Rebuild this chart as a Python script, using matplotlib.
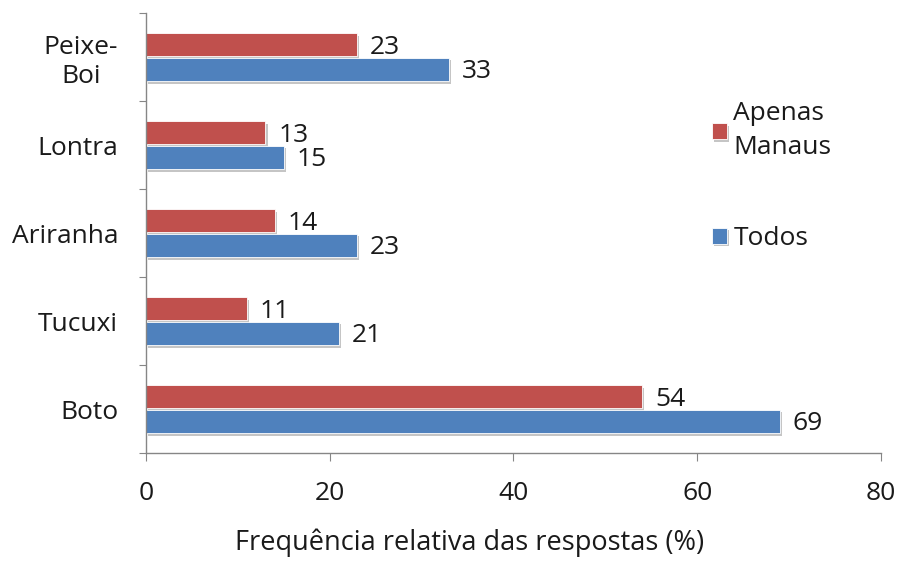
import numpy as np
import matplotlib.pyplot as plt
import matplotlib.patheffects as pe

categories = ["Boto", "Tucuxi", "Ariranha", "Lontra", "Peixe-\nBoi"]
manaus = [54, 11, 14, 13, 23]
todos = [69, 21, 23, 15, 33]
series_names = ["Apenas\nManaus", "Todos"]

red = "#C0504D"
blue = "#4F81BD"
fs = 19

plt.rcParams['font.family'] = ['Open Sans', 'DejaVu Sans']

fig = plt.figure(figsize=(9, 5.61), dpi=100)
ax = fig.add_axes([0.1622, 0.1925, 0.8167, 0.7843])

y = np.arange(len(categories))
h = 0.265
shadow = [pe.SimplePatchShadow(offset=(1.5, -2), shadow_rgbFace="#808080", alpha=0.45), pe.Normal()]

b1 = ax.barh(y + 0.14, manaus, height=h, color=red, label=series_names[0],
             edgecolor="white", linewidth=0.6, path_effects=shadow)
b2 = ax.barh(y - 0.14, todos, height=h, color=blue, label=series_names[1],
             edgecolor="white", linewidth=0.6, path_effects=shadow)

for bars, vals in ((b1, manaus), (b2, todos)):
    for bar, v in zip(bars, vals):
        ax.text(v + 1.4, bar.get_y() + bar.get_height() / 2 - 0.03, str(v),
                va="center", ha="left", fontsize=fs, color="#1a1a1a")

ax.set_xlim(0, 80)
ax.set_ylim(-0.5, 4.5)
ax.set_xticks([0, 20, 40, 60, 80])

# category labels between boundary ticks
ax.set_yticks(np.arange(-0.5, 5, 1))
ax.set_yticklabels([])
ax.set_yticks(y, minor=True)
ax.set_yticklabels(categories, minor=True, fontsize=fs, color="#1a1a1a",
                   multialignment="center")
ax.tick_params(axis="y", which="minor", length=0, pad=20)
ax.tick_params(axis="y", which="major", length=5, color="#868686", direction="out")
ax.tick_params(axis="x", length=6, color="#868686", pad=14, labelsize=fs,
               labelcolor="#1a1a1a")

for s in ("top", "right"):
    ax.spines[s].set_visible(False)
for s in ("left", "bottom"):
    ax.spines[s].set_color("#868686")
    ax.spines[s].set_linewidth(1.0)

ax.set_xlabel("Frequência relativa das respostas (%)", fontsize=fs + 0.5,
              color="#1a1a1a")
ax.xaxis.set_label_coords(0.44, -0.172)

leg = ax.legend(loc="upper left", bbox_to_anchor=(0.738, 0.853), frameon=False,
                fontsize=fs, handlelength=0.55, handleheight=0.55,
                handletextpad=0.25, labelspacing=2.5)
for t in leg.get_texts():
    t.set_color("#1a1a1a")
    t.set_linespacing(1.45)

fig.savefig("out.png", dpi=100)
